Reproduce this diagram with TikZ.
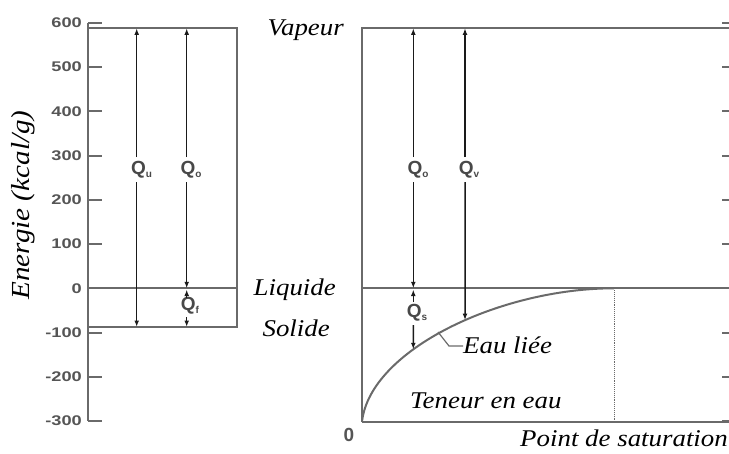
\documentclass[tikz,border=0pt]{standalone}
\usepackage{fontspec}
\usepackage{graphicx}
\usetikzlibrary{arrows.meta,intersections}
\newfontfamily\serfont{Liberation Serif}
\newfontfamily\tickfont{Liberation Sans}
\newfontfamily\qfont{Liberation Sans}
\definecolor{boxgray}{HTML}{6A6A6A}
\definecolor{arrgray}{HTML}{1A1A1A}
\definecolor{tickgray}{HTML}{555555}
\newcommand{\qsub}[1]{\raisebox{-3pt}{\fontsize{10}{10}\selectfont #1}}
\newcommand{\wlab}[1]{\scalebox{1.12}[1]{#1}}
\newcommand{\wtick}[1]{\scalebox{1.3}[1]{#1}}
\begin{document}
\begin{tikzpicture}[x=1pt,y=-1pt,
  frame/.style={draw=boxgray,line width=2pt},
  arr/.style={draw=arrgray,line width=1.5pt,-{Latex[length=6.5pt,width=4.8pt]}},
  ticklab/.style={font={\tickfont\bfseries\fontsize{14}{14}\selectfont},text=tickgray,anchor=east,inner sep=0pt},
  lab/.style={font={\serfont\itshape\fontsize{24}{24}\selectfont},text=black,inner sep=0pt},
  qlab/.style={font={\qfont\bfseries\fontsize{19}{19}\selectfont},text=arrgray!80!white,inner sep=0pt},
]
\useasboundingbox (0,0) rectangle (729,453);

% ---------- left panel ----------
\coordinate (la-top) at (88,22.6);
\coordinate (la-bot) at (88,421.1);
\draw[frame] (la-top) -- (la-bot);
\foreach \v/\y [count=\i] in {600/22.6,500/66.9,400/111.2,300/155.5,200/199.7,100/244.0,0/288.3,-100/332.6,-200/376.9,-300/421.1}{
  \draw[frame] (88,\y) -- (102,\y);
  \node[ticklab] (tl\i) at (82,\y) {\wtick{\v}};
}
\coordinate (lb-tl) at (88,28.3);
\coordinate (lb-tr) at (237,28.3);
\coordinate (lb-br) at (237,327);
\coordinate (lb-bl) at (88,327);
\coordinate (lb-zl) at (88,288.3);
\coordinate (lb-zr) at (237,288.3);
\draw[frame] (lb-tl) -- (lb-tr) -- (lb-br) -- (lb-bl);
\draw[frame] (lb-zl) -- (lb-zr);

\node[lab,rotate=90,anchor=base,font={\serfont\itshape\fontsize{26}{26}\selectfont}] (energie) at (30,205) {\wlab{Energie (kcal/g)}};

% Q_u
\coordinate (qu-top) at (136.7,28.3);
\coordinate (qu-bot) at (136.7,327);
\coordinate (qu-a) at (136.7,157);
\coordinate (qu-b) at (136.7,182);
\node[qlab] (qu) at (141.5,170) {Q\qsub{u}};
\draw[arr] (qu-a) -- (qu-top);
\draw[arr] (qu-b) -- (qu-bot);

% Q_o (left)
\coordinate (qol-top) at (186.7,28.3);
\coordinate (qol-bot) at (186.7,288.3);
\coordinate (qol-a) at (186.7,157);
\coordinate (qol-b) at (186.7,182);
\node[qlab] (qol) at (191,170) {Q\qsub{o}};
\draw[arr] (qol-a) -- (qol-top);
\draw[arr] (qol-b) -- (qol-bot);

% Q_f
\coordinate (qf-top) at (186.7,289.5);
\coordinate (qf-bot) at (186.7,327);
\coordinate (qf-a) at (186.7,298);
\coordinate (qf-b) at (186.7,317);
\node[qlab] (qf) at (190,306) {Q\qsub{f}};
\draw[arr] (qf-a) -- (qf-top);
\draw[arr] (qf-b) -- (qf-bot);

% ---------- right panel ----------
\coordinate (o) at (362,421.7);
\coordinate (rv-top) at (362,28.3);
\coordinate (rt-r) at (729,28.3);
\coordinate (rl-l) at (362,288.3);
\coordinate (rl-r) at (729,288.3);
\coordinate (rb-r) at (729,421.7);
\coordinate (sat) at (614,288.3);
\coordinate (sat-b) at (614,421.7);
\draw[frame] (o) -- (rv-top) -- (rt-r);
\draw[frame] (rl-l) -- (rl-r);
\draw[frame] (o) -- (rb-r);
\foreach \y in {22.6,66.9,111.2,155.5,199.7,244.0,332.6,376.9,421.1}{
  \draw[frame] (722,\y) -- (729,\y);
}
\draw[boxgray,line width=0.9pt,densely dotted] (sat) -- (sat-b);
\draw[frame,name path=curve] (o) .. controls (370,350) and (500,288.3) .. (sat);

\path[name path=vqs] (413.3,288) -- (413.3,421);
\path[name path=vqv] (465,288) -- (465,421);
\path[name intersections={of=curve and vqs,by=qs-bot}];
\path[name intersections={of=curve and vqv,by=qv-bot}];

% Q_o (right)
\coordinate (qor-top) at (413.3,28.3);
\coordinate (qor-bot) at (413.3,288.3);
\coordinate (qor-a) at (413.3,157);
\coordinate (qor-b) at (413.3,182);
\node[qlab] (qor) at (418,170) {Q\qsub{o}};
\draw[arr] (qor-a) -- (qor-top);
\draw[arr] (qor-b) -- (qor-bot);

% Q_v
\coordinate (qv-top) at (465,28.3);
\coordinate (qv-a) at (465,157);
\coordinate (qv-b) at (465,182);
\node[qlab] (qv) at (469,170) {Q\qsub{v}};
\draw[arr] (qv-a) -- (qv-top);
\draw[arr] (qv-b) -- (qv-bot);

% Q_s
\coordinate (qs-top) at (413.3,289.5);
\coordinate (qs-a) at (413.3,302);
\coordinate (qs-b) at (413.3,325);
\node[qlab] (qs) at (417,313) {Q\qsub{s}};
\draw[arr] (qs-a) -- (qs-top);
\draw[arr] (qs-b) -- (qs-bot);

% labels
\node[lab,anchor=base east] (vapeur) at (344,35) {\wlab{Vapeur}};
\node[lab,anchor=base east] (liquide) at (336,295) {\wlab{Liquide}};
\node[lab,anchor=base east] (solide) at (330,336.7) {\wlab{Solide}};
\node[lab,anchor=base west] (teneur) at (410,408) {\wlab{Teneur en eau}};
\node[lab,anchor=base west] (eau) at (463,353) {\wlab{Eau liée}};
\node[lab,anchor=base east] (point) at (728,446.7) {\wlab{Point de saturation}};
\node[qlab,text=tickgray] (zero) at (349,435) {0};

% leader of "Eau liee"
\coordinate (lead-a) at (438,332);
\coordinate (lead-b) at (449,346);
\draw[boxgray,line width=1.2pt] (lead-a) -- (lead-b) -- (eau.west |- lead-b);
\end{tikzpicture}
\end{document}
